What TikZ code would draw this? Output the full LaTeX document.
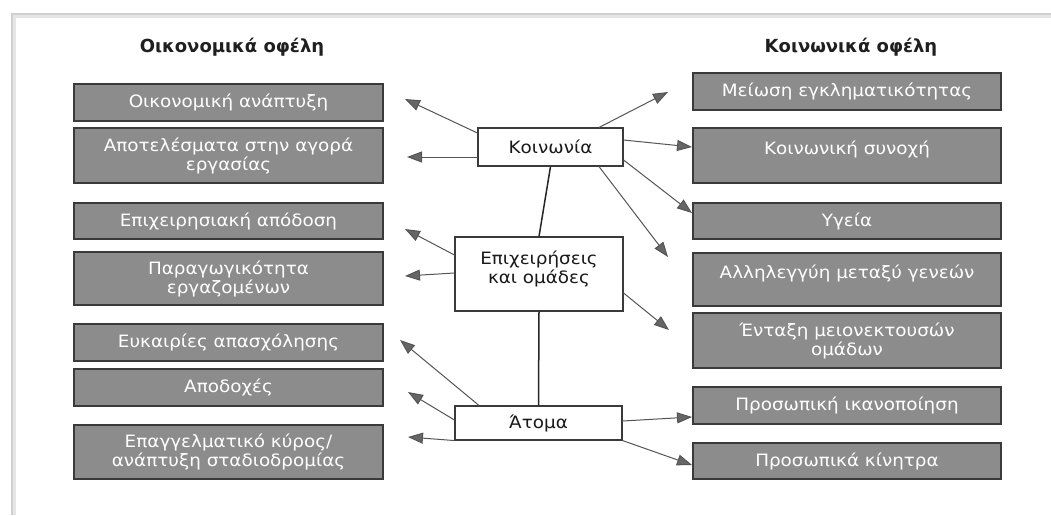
\documentclass[tikz,border=0pt]{standalone}
\usepackage{fontspec}
\setmainfont{DejaVu Sans}
\newfontfamily\boxfont{DejaVu Sans}[FakeStretch=1.08]
\newfontfamily\titlefont{DejaVu Sans}
\usetikzlibrary{arrows.meta}
\definecolor{boxgray}{HTML}{8C8C8C}
\definecolor{boxedge}{HTML}{3A3A3A}
\definecolor{linegray}{HTML}{555555}
\definecolor{tipgray}{HTML}{666666}
\definecolor{framegray}{HTML}{D0D0D0}
\tikzset{
  x=1pt, y=-1pt,
  graybox/.style={draw=boxedge, line width=1.3pt, fill=boxgray, text=white,
    minimum width=309pt, inner sep=0pt, align=center,
    font=\boxfont\fontsize{17}{19}\selectfont},
  whitebox/.style={draw=boxedge, line width=1.1pt, fill=white, text=black!90,
    inner sep=0pt, align=center,
    font=\boxfont\fontsize{17}{19}\selectfont},
  coltitle/.style={font=\titlefont\bfseries\fontsize{18}{21}\selectfont, text=black!88},
  arr/.style={draw=linegray, line width=1pt,
    -{Triangle[length=15pt,width=11pt,fill=tipgray]}},
  link/.style={draw=black!85, line width=1.5pt}
}
\begin{document}
\begin{tikzpicture}
\useasboundingbox (0,0) rectangle (1051,515);
\fill[white] (0,0) rectangle (1051,515);
% frame
\draw[framegray!55, line width=3pt] (14,515) -- (14,16) -- (1051,16);
\draw[framegray, line width=1.2pt] (12,515) -- (12,14) -- (1051,14);

% titles
\node[coltitle] (tl) at (232,47) {Οικονομικά οφέλη};
\node[coltitle] (tr) at (851,47) {Κοινωνικά οφέλη};

% left column
\node[graybox, minimum height=37pt] (l1) at (228.5,102.5) {Οικονομική ανάπτυξη};
\node[graybox, minimum height=55pt] (l2) at (228.5,155.5) {Αποτελέσματα στην αγορά\\εργασίας};
\node[graybox, minimum height=36pt] (l3) at (228.5,221) {Επιχειρησιακή απόδοση};
\node[graybox, minimum height=53pt] (l4) at (228.5,278.5) {Παραγωγικότητα\\εργαζομένων};
\node[graybox, minimum height=37pt] (l5) at (228.5,342.5) {Ευκαιρίες απασχόλησης};
\node[graybox, minimum height=37pt] (l6) at (228.5,387.5) {Αποδοχές};
\node[graybox, minimum height=54pt] (l7) at (228.5,452) {Επαγγελματικό κύρος/\\ανάπτυξη σταδιοδρομίας};

% right column
\node[graybox, minimum width=308pt, minimum height=37pt] (r1) at (847,91.5) {Μείωση εγκληματικότητας};
\node[graybox, minimum width=308pt, minimum height=55pt, text height=12pt, text depth=14pt] (r2) at (847,155.5) {Κοινωνική συνοχή};
\node[graybox, minimum width=308pt, minimum height=36pt] (r3) at (847,221) {Υγεία};
\node[graybox, minimum width=308pt, minimum height=53pt, text height=12pt, text depth=15pt] (r4) at (847,279.5) {Αλληλεγγύη μεταξύ γενεών};
\node[graybox, minimum width=308pt, minimum height=55pt] (r5) at (847,340.5) {Ένταξη μειονεκτουσών\\ομάδων};
\node[graybox, minimum width=308pt, minimum height=37pt] (r6) at (847,405.5) {Προσωπική ικανοποίηση};
\node[graybox, minimum width=308pt, minimum height=36pt] (r7) at (847,461) {Προσωπικά κίνητρα};

% centre column
\node[whitebox, minimum width=145pt, minimum height=38pt] (koin) at (550.5,147) {Κοινωνία};
\node[whitebox, minimum width=168pt, minimum height=74pt] (epix) at (539,274) {Επιχειρήσεις\\και ομάδες\\[-6pt]};
\node[whitebox, minimum width=167pt, minimum height=34pt] (atom) at (538.5,423) {Άτομα};

% links between centre boxes
\draw[link] (koin.south) -- (epix.north);
\draw[link] (epix.south) -- (atom.north);

% free arrow ends
\coordinate (ta1) at (405,99);
\coordinate (ta2) at (407,157);
\coordinate (ta3) at (668,92);
\coordinate (ta4) at (692,147);
\coordinate (ta5) at (692,213);
\coordinate (ta6) at (668,257);
\coordinate (tb1) at (405,229);
\coordinate (tb2) at (405,276);
\coordinate (tb3) at (669,330);
\coordinate (tc1) at (400,340);
\coordinate (tc2) at (408,392);
\coordinate (tc3) at (408,437);
\coordinate (tc4) at (692,417);
\coordinate (tc5) at (692,465);

% arrows from Κοινωνία
\draw[arr] ([yshift=14pt]koin.west) -- (ta1);
\draw[arr] ([yshift=-10pt]koin.west) -- (ta2);
\draw[arr] ([xshift=48.5pt]koin.north) -- (ta3);
\draw[arr] ([yshift=7pt]koin.east) -- (ta4);
\draw[arr] ([yshift=-13pt]koin.east) -- (ta5);
\draw[arr] ([xshift=48.5pt]koin.south) -- (ta6);
% arrows from Επιχειρήσεις
\draw[arr] ([yshift=19pt]epix.west) -- (tb1);
\draw[arr] ([yshift=1pt]epix.west) -- (tb2);
\draw[arr] ([yshift=-19pt]epix.east) -- (tb3);
% arrows from Άτομα
\draw[arr] ([xshift=-59.5pt]atom.north) -- (tc1);
\draw[arr] ([yshift=3pt]atom.west) -- (tc2);
\draw[arr] (atom.south west) -- (tc3);
\draw[arr] ([yshift=2pt]atom.east) -- (tc4);
\draw[arr] (atom.south east) -- (tc5);
\end{tikzpicture}
\end{document}
